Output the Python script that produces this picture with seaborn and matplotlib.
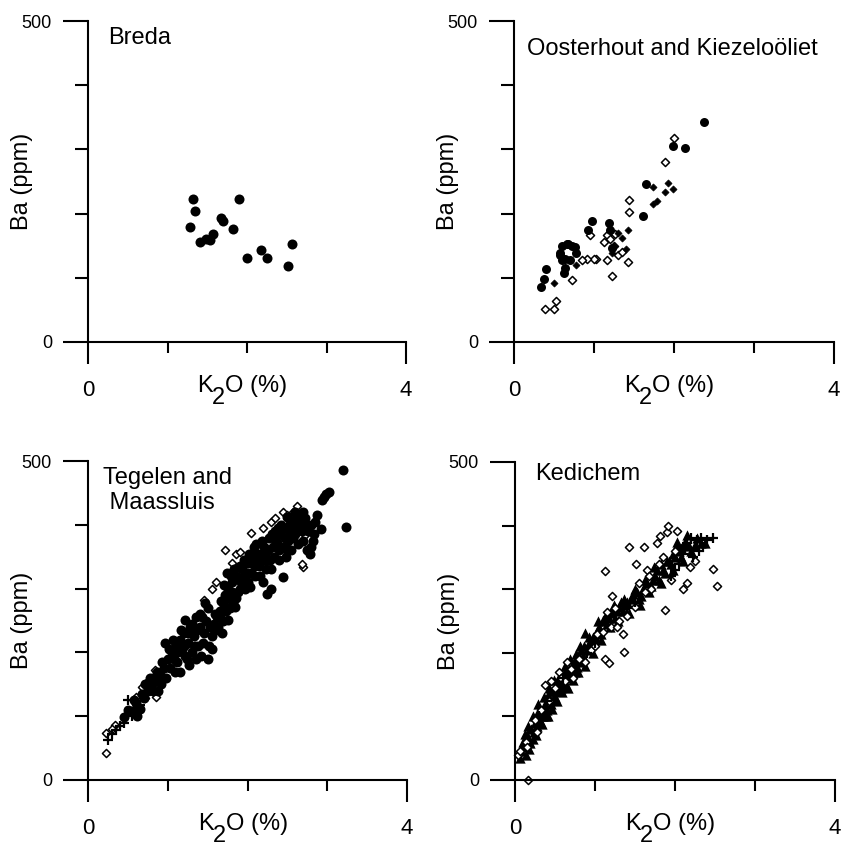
import matplotlib
matplotlib.use('Agg')
import matplotlib.pyplot as plt
import seaborn as sns

# ---- Breda (filled circles)
breda_k2o = [1.32, 1.35, 1.28, 1.41, 1.48, 1.53, 1.57, 1.67, 1.70, 1.83, 1.90, 2.00, 2.17, 2.25, 2.56, 2.52]
breda_ba = [223, 204, 179, 155, 160, 159, 168, 193, 189, 176, 223, 131, 143, 131, 152, 119]

# ---- Oosterhout and Kiezelooliet
oost_circles = [(2.37, 343), (1.99, 306), (2.14, 302), (1.65, 246), (1.61, 197), (0.98, 189),
                (0.92, 174), (1.19, 185), (1.20, 174), (0.67, 153), (0.58, 138), (0.60, 128),
                (0.64, 115), (0.76, 148), (0.78, 138), (0.40, 113), (0.38, 98), (0.34, 85),
                (0.60, 150), (0.66, 152), (0.72, 150), (0.58, 135), (0.64, 130), (0.70, 128),
                (0.62, 108), (1.22, 146)]
oost_open = [(2.00, 318), (1.89, 281), (1.44, 221), (1.44, 202), (0.95, 167), (1.13, 156),
             (1.16, 167), (1.26, 169), (1.30, 136), (1.42, 124), (1.16, 128), (1.03, 129),
             (1.00, 130), (0.91, 130), (0.85, 127), (1.23, 103), (0.73, 97), (0.52, 64),
             (0.50, 51), (0.39, 51), (1.20, 160), (1.35, 140), (1.25, 150)]
oost_solid = [(1.74, 242), (1.93, 247), (1.99, 238), (1.89, 234), (1.79, 220), (1.74, 215),
              (1.43, 175), (1.35, 162), (1.25, 149), (1.22, 139), (0.78, 120), (0.50, 92),
              (1.30, 170), (1.40, 145)]

# ---- Tegelen and Maassluis
teg_circles = [(0.45, 98), (0.55, 108), (0.60, 120), (0.65, 112), (0.70, 128), (0.62, 100),
               (0.75, 140), (0.80, 150), (0.85, 155), (0.90, 165), (0.92, 150), (0.95, 175),
               (0.97, 214), (1.00, 190), (0.88, 140),
               (1.03, 175), (1.05, 200), (1.08, 190), (1.10, 210), (1.12, 185), (1.15, 220),
               (1.18, 205), (1.20, 230), (1.22, 251), (1.25, 215), (1.27, 180), (1.30, 200),
               (1.28, 240), (1.22, 195), (1.15, 170),
               (1.33, 225), (1.35, 255), (1.38, 210), (1.40, 240), (1.43, 256), (1.45, 230),
               (1.47, 277), (1.50, 190), (1.52, 210), (1.55, 225), (1.58, 245), (1.60, 235),
               (1.42, 195), (1.36, 190),
               (1.62, 255), (1.65, 256), (1.68, 230), (1.70, 275), (1.72, 290), (1.75, 251),
               (1.76, 300), (1.78, 270), (1.80, 310), (1.82, 277), (1.84, 271), (1.85, 320),
               (1.88, 295), (1.90, 335), (1.74, 324), (1.66, 265),
               (1.92, 310), (1.95, 345), (1.97, 300), (2.00, 325), (2.02, 355), (2.03, 303),
               (2.05, 340), (2.08, 365), (2.10, 320), (2.12, 350), (2.15, 335), (2.18, 375),
               (2.20, 310), (2.22, 355), (2.24, 292), (2.24, 345),
               (2.27, 380), (2.30, 330), (2.32, 365), (2.35, 390), (2.37, 371), (2.40, 345),
               (2.42, 400), (2.45, 318), (2.47, 380), (2.49, 413), (2.50, 360), (2.30, 300),
               (2.38, 395),
               (2.52, 390), (2.55, 405), (2.57, 380), (2.60, 420), (2.62, 400), (2.63, 370),
               (2.66, 413), (2.68, 390), (2.70, 375), (2.72, 410), (2.75, 360), (2.78, 355),
               (2.80, 365), (2.53, 402),
               (2.85, 405), (2.87, 415), (2.92, 393), (2.93, 439), (2.96, 444), (2.99, 449),
               (3.02, 452), (3.20, 486), (3.24, 397),
               (0.50, 110), (0.58, 125), (0.68, 135), (0.72, 150), (0.78, 160), (0.82, 140),
               (0.87, 170), (0.93, 185), (0.98, 160), (1.02, 205), (1.06, 220), (1.09, 170),
               (1.13, 200), (1.17, 235), (1.21, 210), (1.24, 190), (1.26, 230), (1.31, 245),
               (1.34, 210), (1.37, 235), (1.41, 260), (1.44, 215), (1.48, 250), (1.51, 270),
               (1.53, 240), (1.56, 205), (1.59, 260), (1.63, 240), (1.67, 280), (1.69, 250),
               (1.71, 305), (1.73, 265), (1.77, 285), (1.79, 320), (1.81, 295), (1.83, 330),
               (1.86, 285), (1.89, 315), (1.91, 300), (1.93, 330), (1.96, 320), (1.99, 340),
               (2.01, 310), (2.04, 325), (2.06, 355), (2.09, 335), (2.11, 370), (2.14, 355),
               (2.16, 320), (2.19, 345), (2.21, 365), (2.23, 330), (2.26, 360), (2.28, 345),
               (2.31, 385), (2.33, 350), (2.36, 375), (2.39, 360), (2.41, 385), (2.44, 365),
               (2.46, 395), (2.48, 350), (2.51, 375), (2.54, 360), (2.56, 395), (2.59, 385),
               (2.61, 410), (2.64, 395), (2.67, 400), (2.69, 420), (2.71, 395), (2.74, 400),
               (2.76, 390), (2.79, 400), (2.82, 375), (2.84, 385)]
teg_open = [(0.23, 43), (0.23, 73), (0.34, 86), (0.30, 80), (0.60, 130), (0.68, 145),
            (0.75, 155), (0.80, 160), (0.84, 172), (0.88, 165), (0.72, 128), (0.85, 130),
            (1.45, 282), (1.55, 300), (1.60, 310), (1.72, 360), (1.86, 355), (1.80, 340),
            (1.90, 358), (2.05, 387), (2.20, 395), (2.30, 405), (2.35, 410), (2.45, 420),
            (2.57, 420), (2.62, 430), (2.72, 384), (2.70, 334), (2.68, 338), (2.50, 415)]
teg_plus = [(0.25, 63), (0.30, 72), (0.35, 78), (0.45, 90), (0.50, 125), (0.55, 100),
            (0.40, 85), (0.65, 118)]

# ---- Kedichem
ked_tri = [(0.08, 45), (0.12, 55), (0.15, 70), (0.20, 80), (0.22, 65), (0.25, 90), (0.30, 95),
           (0.30, 110), (0.35, 100), (0.38, 120), (0.40, 110), (0.42, 130), (0.45, 120),
           (0.48, 140), (0.50, 130), (0.52, 150), (0.55, 140), (0.58, 160), (0.60, 150),
           (0.62, 170), (0.65, 160), (0.68, 175), (0.70, 165), (0.72, 180), (0.75, 170),
           (0.78, 190), (0.81, 210), (0.85, 195), (0.875, 231), (0.90, 205), (0.95, 215),
           (1.00, 225), (1.05, 240), (1.10, 252), (1.15, 245), (1.20, 262), (1.25, 255),
           (1.30, 272), (1.35, 265), (1.40, 280), (1.48, 293), (1.55, 285), (1.60, 300),
           (1.70, 305), (1.75, 320), (1.80, 315), (1.85, 330), (1.95, 340), (2.00, 350),
           (2.05, 360), (2.10, 345), (0.18, 48),
           (0.10, 60), (0.14, 40), (0.17, 62), (0.24, 75), (0.28, 85), (0.32, 105), (0.34, 88),
           (0.37, 112), (0.41, 100), (0.44, 140), (0.47, 128), (0.51, 140), (0.54, 155),
           (0.57, 145), (0.61, 162), (0.64, 150), (0.67, 168), (0.71, 172), (0.74, 185),
           (0.77, 178), (0.80, 195), (0.83, 185), (0.86, 210), (0.92, 215), (0.97, 225),
           (1.02, 235), (1.07, 230), (1.12, 250), (1.18, 255), (1.22, 270), (1.28, 265),
           (1.33, 280), (1.38, 275), (1.45, 285), (1.52, 295), (1.58, 290), (1.65, 310),
           (1.72, 315), (1.78, 330), (1.83, 340), (1.88, 325), (1.92, 345), (1.98, 355),
           (2.03, 370), (2.08, 365), (2.13, 375), (2.18, 368), (2.25, 370), (2.32, 372),
           (0.06, 35), (0.09, 52), (0.13, 72), (0.16, 85), (0.19, 58), (0.23, 100), (0.26, 70),
           (0.29, 120), (0.33, 90), (0.36, 130), (0.39, 100), (0.43, 145), (0.46, 112),
           (0.49, 158), (0.53, 125), (0.56, 165), (0.59, 138), (0.63, 180), (0.66, 145),
           (0.69, 190), (0.73, 158), (0.76, 198), (0.79, 170), (0.82, 205), (0.88, 180),
           (0.93, 225), (0.98, 200), (1.04, 250), (1.08, 220), (1.14, 260), (1.19, 240),
           (1.24, 275), (1.29, 250), (1.36, 285), (1.42, 262), (1.50, 300), (1.56, 275),
           (1.63, 315), (1.68, 295), (1.74, 335), (1.82, 310), (1.90, 345), (1.97, 330),
           (2.02, 375), (2.07, 350), (2.15, 385), (2.20, 360), (2.28, 380), (2.38, 372)]
ked_plus = [(2.15, 372), (2.20, 380), (2.27, 377), (2.33, 380), (2.40, 378), (2.48, 380),
            (2.35, 367), (2.30, 360), (2.10, 355), (2.05, 340), (2.00, 330), (1.95, 320),
            (1.50, 280), (1.40, 270), (1.00, 215), (0.90, 200), (0.60, 160), (0.40, 125),
            (0.30, 100), (2.22, 350), (2.12, 365)]
ked_open = [(0.167, 0), (0.04, 39), (0.06, 45), (0.14, 60), (0.15, 52), (0.25, 95), (0.27, 75),
            (0.33, 110), (0.38, 150), (0.42, 125), (0.45, 155), (0.50, 145), (0.55, 170),
            (0.58, 160), (0.62, 155), (0.65, 185), (0.70, 175), (0.72, 160), (0.80, 190),
            (0.88, 185), (0.95, 205), (1.00, 210), (1.03, 230), (1.10, 232), (1.13, 190),
            (1.17, 184), (1.20, 240), (1.21, 290), (1.25, 270), (1.30, 250), (1.36, 202),
            (1.35, 230), (1.40, 258), (1.43, 366), (1.50, 272), (1.51, 339), (1.55, 310),
            (1.61, 367), (1.62, 295), (1.65, 330), (1.68, 320), (1.70, 300), (1.77, 372),
            (1.80, 340), (1.81, 383), (1.85, 350), (1.87, 268), (1.90, 390), (1.91, 399),
            (1.95, 315), (2.00, 360), (2.03, 392), (2.10, 300), (2.15, 310), (2.19, 335),
            (2.25, 345), (2.48, 331), (2.53, 305), (1.15, 264), (1.125, 329), (1.27, 240)]

sns.set_style('ticks')
plt.rcParams['font.family'] = ['Liberation Sans', 'DejaVu Sans']
plt.rcParams.update({'text.color': 'black', 'axes.labelcolor': 'black',
                     'xtick.color': 'black', 'ytick.color': 'black',
                     'axes.edgecolor': 'black'})


def scatter(ax, pts, kind, s):
    xs = [p[0] for p in pts]
    ys = [p[1] for p in pts]
    if kind == 'circle':
        sns.scatterplot(x=xs, y=ys, ax=ax, marker='o', s=s, color='black', edgecolor='black',
                        linewidth=0, clip_on=False)
    elif kind == 'open':
        sns.scatterplot(x=xs, y=ys, ax=ax, marker='D', s=s, color='white', edgecolor='black',
                        linewidth=1.1, clip_on=False)
    elif kind == 'solid':
        sns.scatterplot(x=xs, y=ys, ax=ax, marker='D', s=s, color='black', edgecolor='black',
                        linewidth=0.5, clip_on=False)
    elif kind == 'plus':
        sns.scatterplot(x=xs, y=ys, ax=ax, marker='+', s=s, color='black', linewidth=1.6,
                        clip_on=False)
    elif kind == 'tri':
        sns.scatterplot(x=xs, y=ys, ax=ax, marker='^', s=s, color='black', edgecolor='black',
                        linewidth=0, clip_on=False)


def style_axis(ax, title, tx, ty):
    ax.set_xlim(0, 4)
    ax.set_ylim(0, 500)
    sns.despine(ax=ax)
    ax.set_xticks([0, 4])
    ax.set_xticklabels(['0', '4'])
    ax.set_xticks([1, 2, 3], minor=True)
    ax.set_yticks([0, 500])
    ax.set_yticklabels(['0', '500'])
    ax.set_yticks([100, 200, 300, 400], minor=True)
    ax.tick_params(axis='x', which='major', length=16, width=1.5, pad=11, labelsize=16)
    ax.tick_params(axis='x', which='minor', length=8, width=1.5)
    ax.tick_params(axis='y', which='major', length=18, width=1.5, pad=8, labelsize=13)
    ax.tick_params(axis='y', which='minor', length=9.5, width=1.5)
    for sp in ['left', 'bottom']:
        ax.spines[sp].set_linewidth(1.5)
    ax.set_xlabel('')
    ax.set_ylabel('Ba (ppm)', fontsize=17)
    ax.yaxis.set_label_coords(-0.173, 0.5)
    # K2O (%) with a full-size, lowered subscript
    ax.annotate('K', xy=(0.5, 0), xycoords='axes fraction', xytext=(-24.5, -23.8),
                textcoords='offset points', ha='right', va='top', fontsize=17)
    ax.annotate('2', xy=(0.5, 0), xycoords='axes fraction', xytext=(-20.3, -32.4),
                textcoords='offset points', ha='center', va='top', fontsize=17)
    ax.annotate('O (%)', xy=(0.5, 0), xycoords='axes fraction', xytext=(-15.8, -23.8),
                textcoords='offset points', ha='left', va='top', fontsize=17)
    ax.text(tx, ty, title, transform=ax.transAxes, fontsize=17, va='top', ha='left',
            linespacing=1.2)


fig, axes = plt.subplots(2, 2, figsize=(8.43, 8.52), dpi=100)
W, H = 843.0, 852.0
axes[0, 0].set_position([88 / W, 1 - 342 / H, 318 / W, 321 / H])
axes[0, 1].set_position([514 / W, 1 - 342 / H, 320 / W, 321 / H])
axes[1, 0].set_position([88 / W, 1 - 780 / H, 319 / W, 319 / H])
axes[1, 1].set_position([515 / W, 1 - 780 / H, 320 / W, 318 / H])

ax = axes[0, 0]
scatter(ax, list(zip(breda_k2o, breda_ba)), 'circle', 52)
style_axis(ax, 'Breda', 0.063, 0.981)

ax = axes[0, 1]
scatter(ax, oost_open, 'open', 17)
scatter(ax, oost_solid, 'solid', 13)
scatter(ax, oost_circles, 'circle', 42)
style_axis(ax, 'Oosterhout and Kiezeloöliet', 0.04, 0.948)

ax = axes[1, 0]
scatter(ax, teg_open, 'open', 17)
scatter(ax, teg_circles, 'circle', 52)
scatter(ax, teg_plus, 'plus', 42)
style_axis(ax, 'Tegelen and\n Maassluis', 0.047, 0.982)

ax = axes[1, 1]
scatter(ax, ked_tri, 'tri', 55)
scatter(ax, ked_open, 'open', 17)
scatter(ax, ked_plus, 'plus', 42)
style_axis(ax, 'Kedichem', 0.0625, 0.996)

fig.savefig('out.png', dpi=100)
